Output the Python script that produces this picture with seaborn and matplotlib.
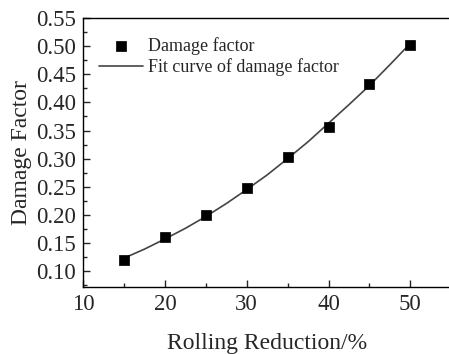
import matplotlib as mpl
import matplotlib.pyplot as plt
import pandas as pd
import seaborn as sns
from matplotlib.ticker import MultipleLocator

# measured points
reduction = [15, 20, 25, 30, 35, 40, 45, 50]
damage = [0.120, 0.160, 0.200, 0.248, 0.302, 0.357, 0.432, 0.502]

# fit curve
fit_x = [15, 17.5, 20, 22.5, 25, 27.5, 30, 32.5, 35, 37.5, 40, 42.5, 45, 47.5, 50]
fit_y = [0.123, 0.139, 0.157, 0.176, 0.197, 0.220, 0.245, 0.271, 0.300, 0.330,
         0.363, 0.396, 0.430, 0.467, 0.505]

sns.set_theme(style="ticks")
mpl.rcParams.update({
    "font.family": ["Liberation Serif", "DejaVu Serif"],
    "xtick.direction": "in",
    "ytick.direction": "in",
    "axes.linewidth": 1.0,
    "axes.edgecolor": "black",
})

pts = pd.DataFrame({"x": reduction, "y": damage})
fit = pd.DataFrame({"x": fit_x, "y": fit_y})

fig = plt.figure(figsize=(4.49, 3.54), dpi=100)
ax = fig.add_axes([0.185, 0.189, 0.820, 0.760])

sns.lineplot(data=fit, x="x", y="y", color="#444444", linewidth=1.2,
             label="Fit curve of damage factor", ax=ax, zorder=2)
sns.scatterplot(data=pts, x="x", y="y", marker="s", s=42, color="black",
                edgecolor="black", label="Damage factor", ax=ax, zorder=3)

ax.set_xlim(10, 55)
ax.set_ylim(0.0715, 0.55)
ax.xaxis.set_major_locator(MultipleLocator(10))
ax.xaxis.set_minor_locator(MultipleLocator(5))
ax.yaxis.set_major_locator(MultipleLocator(0.05))
ax.yaxis.set_minor_locator(MultipleLocator(0.025))
ax.tick_params(which="major", length=5, width=1, labelsize=16.5, pad=5)
ax.tick_params(which="minor", length=3, width=1)
ax.tick_params(top=False, right=False, which="both")
ax.yaxis.set_major_formatter(mpl.ticker.FormatStrFormatter("%.2f"))

ax.set_xlabel("Rolling Reduction/%", fontsize=17, labelpad=13)
ax.set_ylabel("Damage Factor", fontsize=17, labelpad=3)

handles, labels = ax.get_legend_handles_labels()
order = [labels.index("Damage factor"), labels.index("Fit curve of damage factor")]
ax.legend([handles[i] for i in order], [labels[i] for i in order],
          loc="upper left", frameon=False, fontsize=13,
          bbox_to_anchor=(0.0, 0.99), handlelength=2.4, handletextpad=0.3,
          labelspacing=0.2)

fig.savefig("out.png", dpi=100)
